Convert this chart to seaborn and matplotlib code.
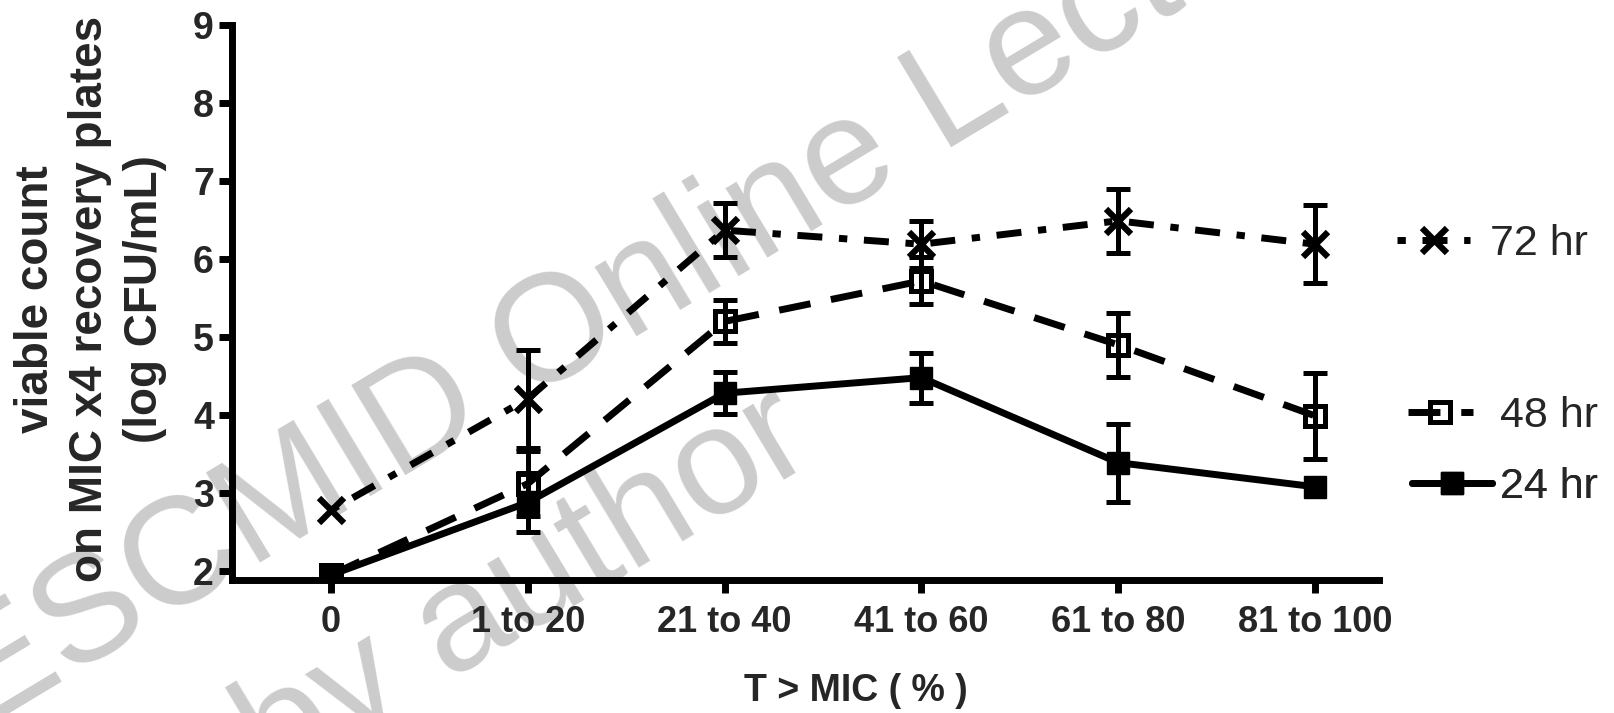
import numpy as np
import pandas as pd
import seaborn as sns
import matplotlib.pyplot as plt
from matplotlib.transforms import blended_transform_factory

# Viable count on MIC x4 recovery plates by T > MIC band
ranges = ['0', '1 to 20', '21 to 40', '41 to 60', '61 to 80', '81 to 100']
series = ['72 hr', '48 hr', '24 hr']
count_72 = [2.78, 4.21, 6.37, 6.19, 6.49, 6.19]
sem_72 = [0, 0.63, 0.35, 0.30, 0.41, 0.50]
count_48 = [1.95, 3.12, 5.20, 5.72, 4.90, 3.99]
sem_48 = [0, 0.42, 0.28, 0.30, 0.41, 0.55]
count_24 = [1.95, 2.88, 4.28, 4.48, 3.39, 3.08]
sem_24 = [0, 0.38, 0.27, 0.32, 0.50, 0]

pos = np.arange(len(ranges))
df = pd.concat([
    pd.DataFrame({'pos': pos, 'count': c, 'sem': e, 'time': s})
    for s, c, e in zip(series, [count_72, count_48, count_24], [sem_72, sem_48, sem_24])
])

sns.set_style('ticks')
plt.rcParams['font.family'] = ['Liberation Sans', 'DejaVu Sans']

styles = {
    '72 hr': dict(linestyle=(6.0, (3.6, 2.4, 1.2, 2.4)), marker='x', ms=18, mew=4.5, mfc='k'),
    '48 hr': dict(linestyle=(0, (4.6, 3.0)), marker='s', ms=14.5, mew=3.6, mfc='none'),
    '24 hr': dict(linestyle='-', marker='s', ms=15.5, mew=1, mfc='k'),
}
legend_pos = {'72 hr': (1.0157, 1.70, 0.47), '48 hr': (1.0253, 1.50, 0.63), '24 hr': (1.0288, 1.86, 0.19)}

fig = plt.figure(figsize=(16.14, 7.13), dpi=100)
ax = fig.add_axes([0.1437, 0.1865, 0.7107, 0.7784])
ax.patch.set_alpha(0)

# watermark
fig.text(-0.012, -0.024, 'ESCMID Online Lecture Library', fontsize=110, color='#cccccc',
         rotation=31, rotation_mode='anchor', ha='left', va='baseline', zorder=-1)
fig.text(0.087, -0.216, '\u00a9 by author', fontsize=110, color='#cccccc',
         rotation=31, rotation_mode='anchor', ha='left', va='baseline', zorder=-1)

handles = {}
for s in series:
    d = df[df['time'] == s]
    sns.lineplot(data=d, x='pos', y='count', ax=ax, color='k', lw=5, sort=False,
                 errorbar=None, mec='k', legend=False, **styles[s])
    handles[s] = ax.lines[-1]
    m = d['sem'] > 0
    ax.errorbar(d['pos'][m], d['count'][m], yerr=d['sem'][m], fmt='none', ecolor='k',
                elinewidth=3.6, capsize=8.3, capthick=3.6)

ax.set_xlim(-0.503, 5.325)
ax.set_ylim(1.885, 9)
ax.set_xticks(pos)
ax.set_xticklabels(ranges, fontsize=26, fontweight='bold')
ax.set_yticks(range(2, 10))
ax.set_yticklabels([str(v) for v in range(2, 10)], fontsize=27, fontweight='bold')
ax.tick_params(axis='both', length=9.4, width=5, color='k')
ax.tick_params(axis='x', pad=8.6)
ax.tick_params(axis='y', pad=3.6)
for side in ['top', 'right']:
    ax.spines[side].set_visible(False)
for side in ['left', 'bottom']:
    ax.spines[side].set_linewidth(5)
    ax.spines[side].set_color('k')

ax.set_xlabel('T > MIC ( % )', fontsize=27, fontweight='bold')
ax.xaxis.set_label_coords(0.544, -0.168)
ax.set_ylabel('viable count\non MIC x4 recovery plates\n(log CFU/mL)', fontsize=33,
              fontweight='bold', linespacing=1.3)
ax.yaxis.set_label_coords(-0.057, 0.506)

# one legend entry per series, level with its last point
trans = blended_transform_factory(ax.transAxes, ax.transData)
for s in series:
    d = df[df['time'] == s]
    x0, hl, tp = legend_pos[s]
    leg = ax.legend(handles=[handles[s]], labels=[s], loc='center left',
                    bbox_to_anchor=(x0, d['count'].iloc[-1]), bbox_transform=trans,
                    frameon=False, fontsize=31, handlelength=hl, handletextpad=tp,
                    borderpad=0, borderaxespad=0)
    ax.add_artist(leg)

fig.savefig('out.png', dpi=100)
